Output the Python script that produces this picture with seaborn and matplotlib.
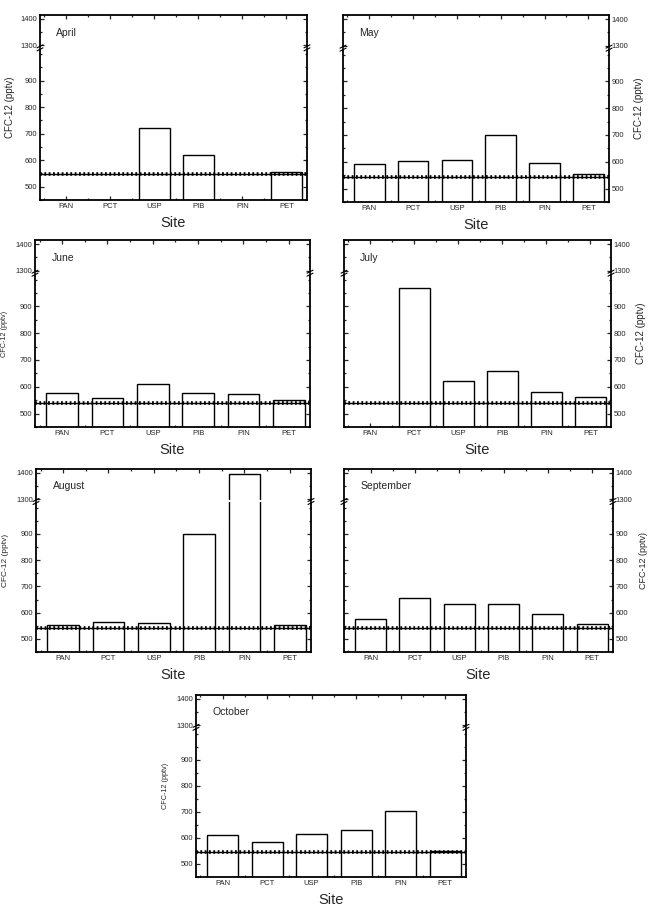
import numpy as np
import pandas as pd
import matplotlib
matplotlib.use("Agg")
import matplotlib.pyplot as plt
import seaborn as sns
from matplotlib.ticker import FixedLocator

sns.set_style("ticks")
plt.rcParams["font.family"] = ["Liberation Sans", "DejaVu Sans"]

sites = ["PAN", "PCT", "USP", "PIB", "PIN", "PET"]
months = ["April", "May", "June", "July", "August", "September", "October"]
nan = np.nan
april = [nan, nan, 720, 620, nan, 557]
may = [591, 604, 607, 700, 594, 554]
june = [577, 560, 612, 577, 572, 550]
july = [nan, 968, 621, 659, 579, 562]
august = [553, 565, 560, 898, 1395, 552]
september = [575, 657, 633, 633, 594, 557]
october = [610, 585, 615, 631, 703, 550]
background = [547, 543, 540, 540, 542, 543, 544]
series = [april, may, june, july, august, september, october]

# panel geometry in pixels: left, right, top, bottom, side of y labels, ylabel size
W, H = 652, 908
panels = [
    (40, 307, 15, 200, "left", 7),
    (343, 609, 15, 202, "right", 7),
    (35, 310, 240, 427, "left", 5.2),
    (344, 611, 240, 427, "right", 7),
    (36, 311, 469, 652, "left", 6),
    (344, 613, 469, 652, "right", 6.5),
    (196, 466, 695, 877, "left", 5.2),
]

LOW = (450, 1020)
UP = (1295, 1415)

fig = plt.figure(figsize=(W / 100, H / 100), dpi=100)


def fbox(l, r, t, b):
    return [l / W, 1 - b / H, (r - l) / W, (b - t) / H]


def style(ax, side):
    ax.set_xlim(-0.6, 5.47)
    ax.xaxis.set_major_locator(FixedLocator(range(6)))
    ax.xaxis.set_minor_locator(FixedLocator([i + 0.5 for i in range(-1, 6)]))
    ax.tick_params(axis="both", which="both", direction="in", top=True, right=True,
                   left=True, bottom=True, labelsize=5.5, width=0.9, pad=2)
    ax.tick_params(which="major", length=3)
    ax.tick_params(which="minor", length=1.6)
    if side == "right":
        ax.tick_params(axis="y", labelleft=False, labelright=True)
    for s in ax.spines.values():
        s.set_linewidth(1.3)
        s.set_color("black")
    ax.set_xlabel("")
    ax.set_ylabel("")


for i, (name, vals, bg, (l, r, t, b, side, ylsize)) in enumerate(
        zip(months, series, background, panels)):
    total = (LOW[1] - LOW[0]) + (UP[1] - UP[0])
    ph = b - t - 2
    up_h = ph * (UP[1] - UP[0]) / total
    brk = t + up_h
    ax_up = fig.add_axes(fbox(l, r, t, brk))
    ax_lo = fig.add_axes(fbox(l, r, brk + 2, b))
    df = pd.DataFrame({"Site": sites, "CFC": vals}).dropna()
    for ax in (ax_up, ax_lo):
        sns.barplot(data=df, x="Site", y="CFC", order=sites, ax=ax, color="white",
                    edgecolor="black", linewidth=1.0, width=0.7, errorbar=None,
                    saturation=1)
        ax.axhline(bg, color="black", lw=1.0, zorder=5)
        ax.axhline(bg, color="black", lw=2.6, ls=(0, (0.5, 0.7)), zorder=5)
        style(ax, side)
    ax_up.set_ylim(*UP)
    ax_lo.set_ylim(*LOW)
    ax_up.yaxis.set_major_locator(FixedLocator([1300, 1400]))
    ax_up.yaxis.set_minor_locator(FixedLocator([1350]))
    ax_lo.yaxis.set_major_locator(FixedLocator([500, 600, 700, 800, 900]))
    ax_lo.yaxis.set_minor_locator(FixedLocator([450, 550, 650, 750, 850, 950, 1000]))
    ax_up.tick_params(axis="x", labelbottom=False, bottom=False, which="both")
    ax_lo.tick_params(axis="x", top=False, which="both")
    ax_up.spines["bottom"].set_visible(False)
    ax_lo.spines["top"].set_visible(False)
    ax_up.text(0.06, 0.45, name, transform=ax_up.transAxes, fontsize=7.5,
               ha="left", va="center")
    # break marks
    kw = dict(color="black", lw=0.8, clip_on=False)
    for xf in (l, r):
        for dy in (-1.5, 1.5):
            fig.add_artist(plt.Line2D([(xf - 3) / W, (xf + 3) / W],
                                      [1 - (brk + 1 + dy + 1.5) / H, 1 - (brk + 1 + dy - 1.5) / H],
                                      transform=fig.transFigure, **kw))
    # axis labels
    fig.text((l + r) / 2 / W, 1 - (b + 23) / H, "Site", ha="center", va="center",
             fontsize=10.5)
    yc = 1 - (t + b) / 2 / H
    if side == "left":
        fig.text((l - 30) / W, yc, "CFC-12 (pptv)", rotation=90, ha="center",
                 va="center", fontsize=ylsize)
    else:
        fig.text((r + 30) / W, yc, "CFC-12 (pptv)", rotation=90, ha="center",
                 va="center", fontsize=ylsize)

fig.savefig("out.png", dpi=100, facecolor="white")
